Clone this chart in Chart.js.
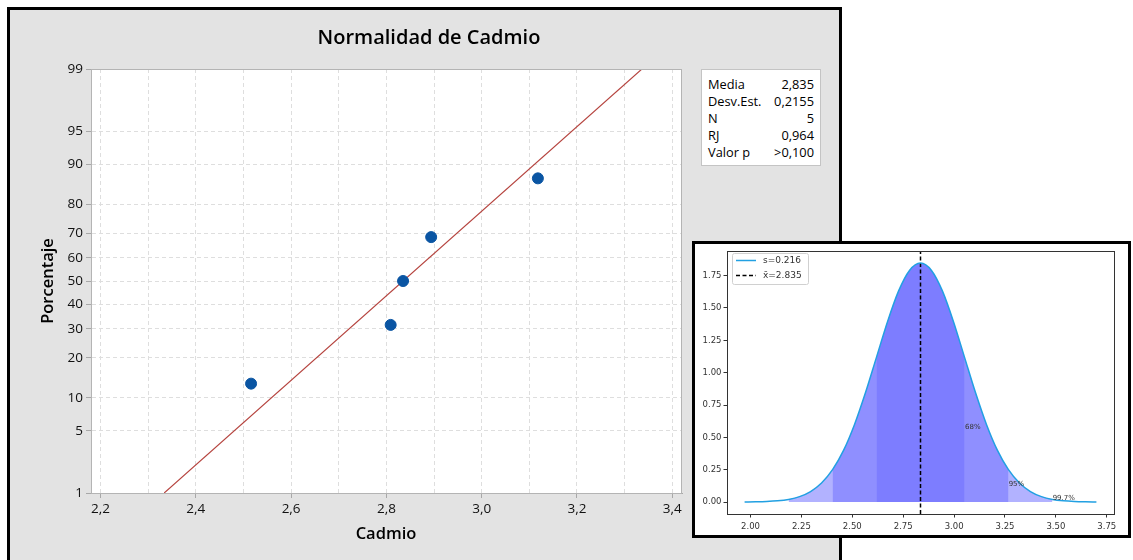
<!DOCTYPE html>
<html><head><meta charset="utf-8">
<script src="https://cdn.jsdelivr.net/npm/chart.js@4.4.0/dist/chart.umd.min.js"></script>
<style>
html,body{margin:0;padding:0;background:#fff;width:1133px;height:560px;overflow:hidden;position:relative;font-family:"Open Sans",sans-serif;}
#panel{position:absolute;left:7px;top:7px;width:829px;height:620px;background:#e3e3e3;border:3px solid #000;border-bottom:none;z-index:0;}
#c1{position:absolute;left:0;top:0;z-index:1;}
#stats{position:absolute;left:701px;top:69px;width:106px;height:89px;background:#fff;border:1px solid #c4c4c4;font-size:12.8px;color:#000;z-index:2;padding:6px 6px 0 6px;}
#stats .row{display:flex;justify-content:space-between;line-height:17px;height:17px;white-space:nowrap;}
#inset{position:absolute;left:692px;top:241px;width:433px;height:291px;background:#fff;border:3px solid #000;z-index:3;}
#c2{position:absolute;left:0;top:0;}
</style></head>
<body>
<div id="panel"></div>
<canvas id="c1" width="1133" height="560"></canvas>
<div id="stats"></div>
<div id="inset"><canvas id="c2" width="433" height="291"></canvas></div>
<script>
// ---------- Probability plot data ----------
const cadmioValues = [2.516, 2.809, 2.835, 2.894, 3.118];
const cadmioPercent = [13.0, 31.5, 50.0, 68.5, 87.0];
const yTickPercents = [1, 5, 10, 20, 30, 40, 50, 60, 70, 80, 90, 95, 99];
const yTickLabels = ['1','5','10','20','30','40','50','60','70','80','90','95','99'];
const xTickValues = [2.2, 2.3, 2.4, 2.5, 2.6, 2.7, 2.8, 2.9, 3.0, 3.1, 3.2, 3.3, 3.4];
const xTickLabels = ['2,2','','2,4','','2,6','','2,8','','3,0','','3,2','','3,4'];
const statLabels = ['Media','Desv.Est.','N','RJ','Valor p'];
const statValues = ['2,835','0,2155','5','0,964','>0,100'];
const fitMean = 2.835;
const fitSd = 0.2155;

// ---------- Normal curve (inset) data ----------
const curveX = [1.971,2.025,2.079,2.133,2.187,2.241,2.295,2.349,2.403,2.457,2.511,2.565,2.619,2.673,2.727,2.781,2.835,2.889,2.943,2.997,3.051,3.105,3.159,3.213,3.267,3.321,3.375,3.429,3.483,3.537,3.591,3.645,3.699];
const curveY = [0.0006,0.0016,0.0040,0.0094,0.0205,0.0421,0.0812,0.147,0.250,0.399,0.600,0.846,1.120,1.394,1.630,1.790,1.847,1.790,1.630,1.394,1.120,0.846,0.600,0.399,0.250,0.147,0.0812,0.0421,0.0205,0.0094,0.0040,0.0016,0.0006];
const bandLow = [2.619, 2.403, 2.187];
const bandHigh = [3.051, 3.267, 3.483];
const bandColors = ['rgb(125,125,255)','rgb(143,143,255)','rgb(178,178,255)'];
const bandLabels = ['68%','95%','99.7%'];
const bandLabelX = [3.054, 3.268, 3.484];
const bandLabelY = [0.58, 0.14, 0.03];
const insetMean = 2.835;
const insetS = 0.216;
const insetXTicks = [2.00,2.25,2.50,2.75,3.00,3.25,3.50,3.75];
const insetYTicks = [0.00,0.25,0.50,0.75,1.00,1.25,1.50,1.75];
const legendLabels = ['s=0.216', 'x\u0304=2.835'];

// inverse normal CDF (Acklam) used for the probability axis
function probit(p){
 const a=[-3.969683028665376e+01,2.209460984245205e+02,-2.759285104469687e+02,1.383577518672690e+02,-3.066479806614716e+01,2.506628277459239e+00];
 const b=[-5.447609879822406e+01,1.615858368580409e+02,-1.556989798598866e+02,6.680131188771972e+01,-1.328068155288572e+01];
 const c=[-7.784894002430293e-03,-3.223964580411365e-01,-2.400758277161838e+00,-2.549732539343734e+00,4.374664141464968e+00,2.938163982698783e+00];
 const d=[7.784695709041462e-03,3.224671290700398e-01,2.445134137142996e+00,3.754408661907416e+00];
 const pl=0.02425, ph=1-pl; let q,r;
 if(p<pl){q=Math.sqrt(-2*Math.log(p));return (((((c[0]*q+c[1])*q+c[2])*q+c[3])*q+c[4])*q+c[5])/((((d[0]*q+d[1])*q+d[2])*q+d[3])*q+1);}
 if(p<=ph){q=p-0.5;r=q*q;return (((((a[0]*r+a[1])*r+a[2])*r+a[3])*r+a[4])*r+a[5])*q/(((((b[0]*r+b[1])*r+b[2])*r+b[3])*r+b[4])*r+1);}
 q=Math.sqrt(-2*Math.log(1-p));return -(((((c[0]*q+c[1])*q+c[2])*q+c[3])*q+c[4])*q+c[5])/((((d[0]*q+d[1])*q+d[2])*q+d[3])*q+1);
}

// stats box
document.getElementById('stats').innerHTML = statLabels.map((l,i)=>
  '<div class="row"><span>'+l+'</span><span>'+statValues[i]+'</span></div>').join('');

const zMin = probit(yTickPercents[0]/100), zMax = probit(yTickPercents[yTickPercents.length-1]/100);
const points = cadmioValues.map((v,i)=>({x:v, y:probit(cadmioPercent[i]/100)}));
const fitLine = [zMin, zMax].map(z=>({x:fitMean+fitSd*z, y:z}));

const mtFont = '"Open Sans", "Noto Sans", sans-serif';
const probPlugin = {
  id:'probDecor',
  beforeDraw(chart){
    const {ctx, chartArea:a} = chart;
    ctx.save(); ctx.fillStyle='#fff'; ctx.fillRect(a.left,a.top,a.right-a.left,a.bottom-a.top); ctx.restore();
  },
  afterDraw(chart){
    const {ctx, chartArea:a} = chart;
    ctx.save();
    ctx.strokeStyle='#b4b4b4'; ctx.lineWidth=1;
    ctx.strokeRect(Math.round(a.left)+0.5, Math.round(a.top)+0.5, Math.round(a.right-a.left)-1, Math.round(a.bottom-a.top));
    ctx.fillStyle='#000'; ctx.textAlign='center'; ctx.textBaseline='middle';
    ctx.font='600 20px '+mtFont;
    ctx.fillText('Normalidad de Cadmio', 429, 38);
    ctx.font='600 16.5px '+mtFont;
    ctx.fillText('Cadmio', 386, 534);
    ctx.translate(48, 281); ctx.rotate(-Math.PI/2);
    ctx.fillText('Porcentaje', 0, 0);
    ctx.restore();
  }
};

new Chart(document.getElementById('c1'), {
  type:'scatter',
  data:{datasets:[
    {label:'Cadmio', data:points, backgroundColor:'#0a55a3', borderColor:'#0a55a3', pointRadius:5.5, pointHoverRadius:5.5},
    {label:'Ajuste', type:'line', data:fitLine, borderColor:'#b5423d', borderWidth:1.1, pointRadius:0, fill:false}
  ]},
  options:{
    responsive:false, animation:false,
    layout:{padding:{left:0, top:69, right:451, bottom:0}},
    plugins:{legend:{display:false}, tooltip:{enabled:false}},
    scales:{
      x:{type:'linear', min:2.18, max:3.4205,
        afterBuildTicks:s=>{s.ticks = xTickValues.map(v=>({value:v}));},
        afterFit:s=>{s.height=67;},
        ticks:{autoSkip:false, maxRotation:0, padding:3, color:'#111', font:{family:mtFont, size:13.5, weight:'500'},
          callback:(v,i)=>xTickLabels[i]},
        grid:{color:'#dedede', lineWidth:1, tickLength:5, tickColor:ctx=>xTickLabels[ctx.index]?'#a8a8a8':'rgba(0,0,0,0)'},
        border:{display:true, color:'#a8a8a8', dash:[4,3]}
      },
      y:{type:'linear', min:zMin, max:zMax,
        afterBuildTicks:s=>{s.ticks = yTickPercents.map(p=>({value:probit(p/100)}));},
        afterFit:s=>{s.width=91;},
        ticks:{autoSkip:false, padding:3, color:'#111', font:{family:mtFont, size:13.5, weight:'500'},
          callback:(v,i)=>yTickLabels[i]},
        grid:{color:'#dedede', lineWidth:1, tickLength:5, tickColor:'#a8a8a8'},
        border:{display:true, color:'#a8a8a8', dash:[4,3]}
      }
    }
  },
  plugins:[probPlugin]
});

// ---------- Inset chart ----------
const curvePts = curveX.map((x,i)=>({x:x, y:curveY[i]}));
const bandSets = bandLow.map((lo,k)=>({
  data: curvePts.filter(p=>p.x>=lo-1e-9 && p.x<=bandHigh[k]+1e-9),
  backgroundColor: bandColors[k], borderColor:'rgba(0,0,0,0)', borderWidth:0,
  pointRadius:0, fill:{value:0}, cubicInterpolationMode:'monotone'
}));
const yLo = -0.0923, yHi = 1.9393;
const mplFont = '"DejaVu Sans", sans-serif';

const insetPlugin = {
  id:'insetDecor',
  afterDraw(chart){
    const {ctx, chartArea:a, scales} = chart;
    ctx.save();
    ctx.strokeStyle='#333'; ctx.lineWidth=1;
    ctx.strokeRect(Math.round(a.left)+0.5, Math.round(a.top)+0.5, Math.round(a.right-a.left), Math.round(a.bottom-a.top));
    // band labels
    ctx.fillStyle='#333'; ctx.font='7px '+mplFont; ctx.textAlign='left'; ctx.textBaseline='middle';
    bandLabels.forEach((t,i)=>ctx.fillText(t, scales.x.getPixelForValue(bandLabelX[i]), scales.y.getPixelForValue(bandLabelY[i])));
    // legend
    const lx=37, ly=9, lw=76, lh=31;
    ctx.fillStyle='rgba(255,255,255,0.85)'; ctx.strokeStyle='#d0d0d0';
    ctx.beginPath(); ctx.roundRect(lx+0.5, ly+0.5, lw, lh, 2); ctx.fill(); ctx.stroke();
    ctx.lineWidth=1.5;
    ctx.strokeStyle='#22a0e2'; ctx.beginPath(); ctx.moveTo(41,16.5); ctx.lineTo(61,16.5); ctx.stroke();
    ctx.strokeStyle='#000'; ctx.setLineDash([4,2.5]); ctx.beginPath(); ctx.moveTo(41,31.5); ctx.lineTo(61,31.5); ctx.stroke();
    ctx.setLineDash([]);
    ctx.fillStyle='#333'; ctx.font='9px '+mplFont;
    ctx.fillText(legendLabels[0], 68, 17);
    ctx.fillText(legendLabels[1], 68, 32);
    ctx.restore();
  }
};

new Chart(document.getElementById('c2'), {
  type:'line',
  data:{datasets:[
    {data:curvePts, borderColor:'#22a0e2', borderWidth:1.5, pointRadius:0, fill:false, cubicInterpolationMode:'monotone'},
    {data:[{x:insetMean, y:yLo},{x:insetMean, y:yHi}], borderColor:'#000', borderWidth:1.5, borderDash:[4,2.5], pointRadius:0, fill:false},
    ...bandSets
  ]},
  options:{
    responsive:false, animation:false,
    layout:{padding:{left:0, top:3, right:14, bottom:0}},
    plugins:{legend:{display:false}, tooltip:{enabled:false}},
    scales:{
      x:{type:'linear', min:1.8846, max:3.7854,
        afterBuildTicks:s=>{s.ticks = insetXTicks.map(v=>({value:v}));},
        afterFit:s=>{s.height=21;},
        ticks:{autoSkip:false, maxRotation:0, padding:4, color:'#333', font:{family:mplFont, size:8.5}, callback:v=>v.toFixed(2)},
        grid:{drawOnChartArea:false, tickLength:3.5, tickColor:'#333'},
        border:{color:'#333'}
      },
      y:{type:'linear', min:yLo, max:yHi,
        afterBuildTicks:s=>{s.ticks = insetYTicks.map(v=>({value:v}));},
        afterFit:s=>{s.width=32;},
        ticks:{autoSkip:false, padding:2, color:'#333', font:{family:mplFont, size:8.5}, callback:v=>v.toFixed(2)},
        grid:{drawOnChartArea:false, tickLength:3.5, tickColor:'#333'},
        border:{color:'#333'}
      }
    }
  },
  plugins:[insetPlugin]
});
</script>
</body></html>
